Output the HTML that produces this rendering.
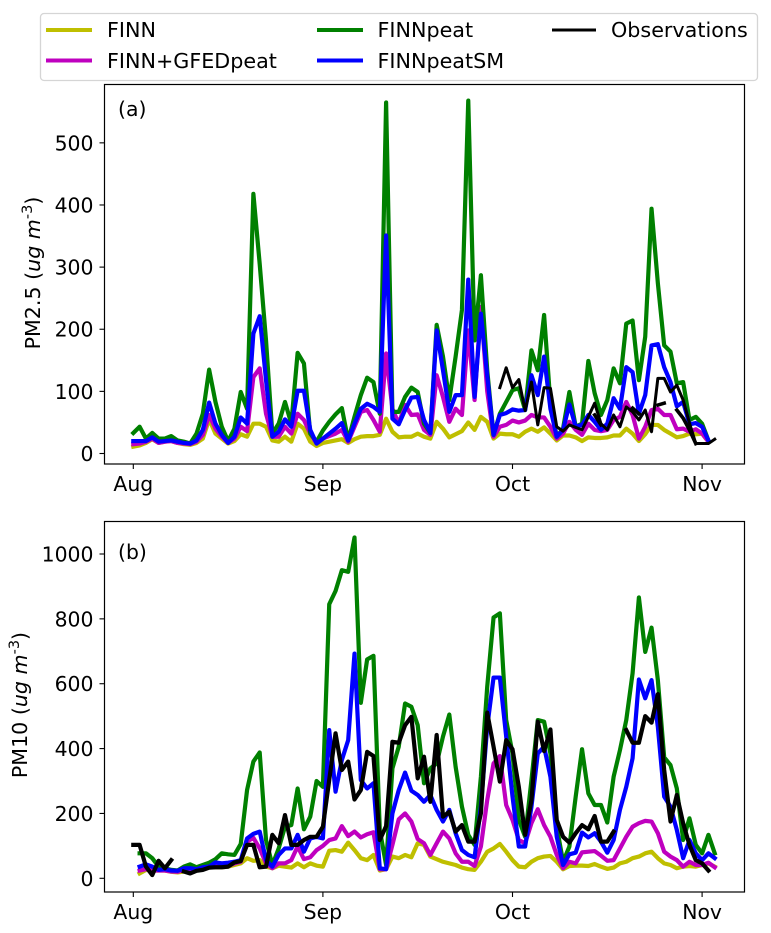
<!DOCTYPE html>
<html>
<head>
<meta charset="utf-8">
<title>PM2.5 and PM10 time series</title>
<style>
html,body{margin:0;padding:0;background:#fff;}
svg{display:block;}
text{font-family:"DejaVu Sans","Liberation Sans",sans-serif;font-size:20.4px;fill:#000;}
.lg{font-size:20.7px;}
.yl{font-size:20.6px;}
</style>
</head>
<body>
<svg id="chart" xmlns="http://www.w3.org/2000/svg" width="771" height="933" viewBox="0 0 771 933">
  <rect x="0" y="0" width="771" height="933" fill="#fff"/>
  <g id="panel-a"></g>
  <g id="panel-b"></g>
  <text class="yl" transform="translate(40,273) rotate(-90)" text-anchor="middle">PM2.5 (<tspan font-style="italic">ug m</tspan><tspan font-size="14.5px" dy="-8">-3</tspan><tspan dy="8">)</tspan></text>
  <text class="yl" transform="translate(27,705) rotate(-90)" text-anchor="middle">PM10 (<tspan font-style="italic">ug m</tspan><tspan font-size="14.5px" dy="-8">-3</tspan><tspan dy="8">)</tspan></text>
  <g>
    <rect x="40.5" y="13.5" width="717" height="67" rx="3.5" fill="#fff" stroke="#d5d5d5" stroke-width="1.3"/>
    <line x1="46" x2="92" y1="30" y2="30" stroke="#bfbf00" stroke-width="4"/>
    <text class="lg" x="107" y="37">FINN</text>
    <line x1="46" x2="92" y1="60.5" y2="60.5" stroke="#bf00bf" stroke-width="4"/>
    <text class="lg" x="107" y="68">FINN+GFEDpeat</text>
    <line x1="317" x2="363" y1="30" y2="30" stroke="#008000" stroke-width="4"/>
    <text class="lg" x="377.5" y="37">FINNpeat</text>
    <line x1="317" x2="363" y1="60.5" y2="60.5" stroke="#0000ff" stroke-width="4"/>
    <text class="lg" x="377.5" y="68">FINNpeatSM</text>
    <line x1="552" x2="596" y1="30" y2="30" stroke="#000" stroke-width="3"/>
    <text class="lg" x="611" y="37">Observations</text>
  </g>
</svg>
<script>
const monthLabels = ['Aug','Sep','Oct','Nov'];
const monthIndices = [0,30,60,90];
const pm25Ticks = [0,100,200,300,400,500];
const pm10Ticks = [0,200,400,600,800,1000];

const pm25Finn = [
11,13,17,23,17,19,20,17,15,14,
17,24,55,32,24,16,20,31,27,48,
48,43,21,19,27,19,48,40,19,12,
17,19,21,23,17,23,27,28,28,30,
56,35,26,27,27,32,27,24,51,40,
26,31,36,50,38,59,51,24,32,31,
31,27,35,40,35,42,32,21,29,29,
26,20,26,25,25,26,29,29,40,32,
20,31,46,46,38,32,26,28,32,31,
32,19];
const pm25Gfed = [
15,16,19,24,17,19,20,17,16,15,
19,30,62,40,27,17,24,43,36,123,
137,64,27,27,43,32,64,54,32,16,
24,28,32,38,19,43,67,70,54,35,
161,72,48,78,62,63,38,30,126,91,
51,72,62,198,86,236,100,27,43,46,
53,50,53,62,58,58,43,24,32,51,
38,30,48,38,36,38,54,59,83,62,
24,43,70,72,62,62,39,40,35,39,
32,19];
const pm25Peat = [
33,43,24,33,24,24,28,21,19,16,
32,64,135,83,43,20,40,99,72,418,
305,182,32,48,83,48,162,145,32,19,
37,51,63,73,21,59,94,122,115,64,
565,67,67,91,106,99,48,33,207,156,
86,156,231,568,182,287,134,30,64,83,
102,105,70,166,134,223,80,27,40,99,
43,48,149,97,62,86,137,113,209,214,
118,188,394,274,174,164,113,115,54,59,
48,21];
const pm25PeatSM = [
20,20,20,26,19,20,21,19,17,16,
21,38,82,48,30,17,27,58,48,193,
221,118,27,35,55,43,101,101,38,16,
24,32,40,49,21,48,72,80,75,67,
351,56,47,70,90,91,54,33,198,134,
67,94,94,280,91,225,125,30,62,65,
71,69,70,126,94,156,72,27,38,79,
43,46,62,51,38,48,89,72,139,131,
64,94,174,176,139,115,76,83,47,49,
43,21];
const pm25Obs = [
null,null,null,null,null,null,null,null,null,null,
null,null,null,null,null,null,null,null,null,null,
null,null,null,null,null,null,null,null,null,null,
null,null,null,null,null,null,null,null,null,null,
null,null,null,null,null,null,null,null,null,null,
null,null,null,null,null,null,null,null,106,138,
106,119,69,115,46,106,105,43,36,46,
42,38,59,81,48,38,62,43,75,67,
54,70,35,121,121,99,110,86,49,16,
16,16,23];
const pm25ObsAlt = [
null,null,null,null,null,null,null,null,null,null,
null,null,null,null,null,null,null,null,null,null,
null,null,null,null,null,null,null,null,null,null,
null,null,null,null,null,null,null,null,null,null,
null,null,null,null,null,null,null,null,null,null,
null,null,null,null,null,null,null,null,null,null,
null,null,null,null,null,null,null,null,null,null,
null,null,null,62,46,null,null,null,null,73,
64,null,null,78,81,null,70,57,38,16];

const pm10Finn = [
null,15,26,24,24,24,20,18,21,24,
24,31,34,34,34,36,41,46,62,54,
56,36,31,39,36,33,46,34,46,39,
36,85,87,82,110,87,62,56,72,24,
28,67,62,72,65,108,103,67,59,51,
46,41,33,28,26,51,82,92,106,82,
56,36,34,51,62,67,69,51,28,38,
39,39,38,44,36,29,33,46,51,62,
67,77,82,62,46,41,31,36,38,36,
41,46,36];
const pm10Gfed = [
null,24,28,24,24,24,21,20,26,26,
26,31,34,36,36,38,46,51,113,125,
92,46,31,46,46,56,98,59,65,87,
100,118,123,161,130,144,126,136,142,28,
28,103,182,200,175,121,108,72,108,144,
123,77,51,51,38,98,241,354,377,226,
180,118,108,170,213,164,128,72,31,51,
46,80,82,84,70,54,56,92,128,159,
170,177,175,139,82,67,56,36,51,41,
41,48,34];
const pm10Peat = [
null,77,77,62,36,31,26,24,36,43,
34,41,48,59,77,74,72,106,272,360,
388,118,41,92,159,164,277,151,190,300,
282,845,886,950,945,1051,541,675,686,149,
41,339,406,539,529,472,293,339,354,437,
505,344,221,134,103,313,591,804,817,488,
385,180,128,303,488,483,385,159,51,98,
252,398,262,226,226,172,313,395,488,632,
866,698,773,611,373,349,277,118,185,103,
77,134,77];
const pm10PeatSM = [
null,36,43,36,26,28,24,23,31,31,
28,34,36,49,46,48,51,56,123,137,
144,56,36,72,92,92,134,82,123,128,
123,457,267,365,426,693,303,277,293,31,
28,200,272,326,270,257,236,257,211,175,
211,139,87,72,65,221,467,619,619,437,
252,98,98,221,385,406,313,128,41,74,
79,141,126,139,113,79,118,211,282,370,
613,555,611,467,252,221,149,62,118,77,
56,77,62];
const pm10Obs = [
103,103,36,10,54,31,56,null,21,15,
23,26,33,34,34,36,49,53,103,103,
34,36,134,108,195,103,103,118,128,128,
159,303,447,334,360,243,272,390,377,118,
161,421,418,472,498,308,375,236,442,190,
205,144,164,113,113,200,511,406,298,426,
398,282,134,241,483,392,459,180,128,110,
139,164,151,192,113,113,144,null,457,418,
418,500,480,568,334,175,257,170,103,56,
46,24];

const NS = 'http://www.w3.org/2000/svg';
function xScale(i){ return 133.3 + 6.32 * i; }
function yScaleA(v){ return 453.5 - v * 0.6213; }
function yScaleB(v){ return 878.3 - v * 0.3243; }

function linePath(values, yScale){
  let d = '', pen = false;
  values.forEach(function(v, i){
    if (v === null) { pen = false; return; }
    d += (pen ? 'L' : 'M') + xScale(i).toFixed(2) + ' ' + yScale(v).toFixed(2);
    pen = true;
  });
  return d;
}

function addSeries(parent, values, yScale, color, width, name){
  const p = document.createElementNS(NS, 'path');
  
  
  p.setAttribute('d', linePath(values, yScale));
  p.setAttribute('fill', 'none');
  p.setAttribute('stroke', color);
  p.setAttribute('stroke-width', width);
  p.setAttribute('stroke-linecap', 'square');
  p.setAttribute('stroke-linejoin', 'round');
  parent.appendChild(p);
}

function addAxes(parent, top, bottom, yScale, ticks, panelLabel, labelY){
  const left = 104.5, right = 744.5;
  ticks.forEach(function(t){
    const y = yScale(t);
    const m = document.createElementNS(NS, 'line');
    
    
    m.setAttribute('x1', left - 5);
    m.setAttribute('x2', left);
    m.setAttribute('y1', y);
    m.setAttribute('y2', y);
    m.setAttribute('stroke', '#000');
    m.setAttribute('stroke-width', '1.1');
    parent.appendChild(m);
    const l = document.createElementNS(NS, 'text');
    
    
    l.setAttribute('x', left - 11);
    l.setAttribute('y', y + 7.5);
    l.setAttribute('text-anchor', 'end');
    l.textContent = String(t);
    parent.appendChild(l);
  });
  monthIndices.forEach(function(idx, k){
    const x = xScale(idx);
    const m = document.createElementNS(NS, 'line');
    
    
    m.setAttribute('x1', x);
    m.setAttribute('x2', x);
    m.setAttribute('y1', bottom);
    m.setAttribute('y2', bottom + 5);
    m.setAttribute('stroke', '#000');
    m.setAttribute('stroke-width', '1.1');
    parent.appendChild(m);
    const l = document.createElementNS(NS, 'text');
    
    
    l.setAttribute('x', x);
    l.setAttribute('y', bottom + 27);
    l.setAttribute('text-anchor', 'middle');
    l.textContent = monthLabels[k];
    parent.appendChild(l);
  });
  const frame = document.createElementNS(NS, 'rect');
  
  
  frame.setAttribute('x', left);
  frame.setAttribute('y', top);
  frame.setAttribute('width', right - left);
  frame.setAttribute('height', bottom - top);
  frame.setAttribute('fill', 'none');
  frame.setAttribute('stroke', '#000');
  frame.setAttribute('stroke-width', '1.2');
  parent.appendChild(frame);
  const pl = document.createElementNS(NS, 'text');
  
  
  pl.setAttribute('x', 118);
  pl.setAttribute('y', labelY);
  pl.textContent = panelLabel;
  pl.style.fontSize = '20.4px';
  parent.appendChild(pl);
}

const panelA = document.getElementById('panel-a');
addSeries(panelA, pm25Finn, yScaleA, '#bfbf00', 4.2, 'pm25-finn-line');
addSeries(panelA, pm25Gfed, yScaleA, '#bf00bf', 4.2, 'pm25-finn-gfedpeat-line');
addSeries(panelA, pm25Peat, yScaleA, '#008000', 4.2, 'pm25-finnpeat-line');
addSeries(panelA, pm25PeatSM, yScaleA, '#0000ff', 4.2, 'pm25-finnpeatsm-line');
addSeries(panelA, pm25Obs, yScaleA, '#000000', 3, 'pm25-observations-line');
addSeries(panelA, pm25ObsAlt, yScaleA, '#000000', 3.6, 'pm25-observations-segments');
addAxes(panelA, 84.5, 464, yScaleA, pm25Ticks, '(a)', 116);

const panelB = document.getElementById('panel-b');
addSeries(panelB, pm10Finn, yScaleB, '#bfbf00', 4.2, 'pm10-finn-line');
addSeries(panelB, pm10Gfed, yScaleB, '#bf00bf', 4.2, 'pm10-finn-gfedpeat-line');
addSeries(panelB, pm10Peat, yScaleB, '#008000', 4.2, 'pm10-finnpeat-line');
addSeries(panelB, pm10PeatSM, yScaleB, '#0000ff', 4.2, 'pm10-finnpeatsm-line');
addSeries(panelB, pm10Obs, yScaleB, '#000000', 4.2, 'pm10-observations-line');
addAxes(panelB, 521.5, 892, yScaleB, pm10Ticks, '(b)', 559);
</script>
</body>
</html>
